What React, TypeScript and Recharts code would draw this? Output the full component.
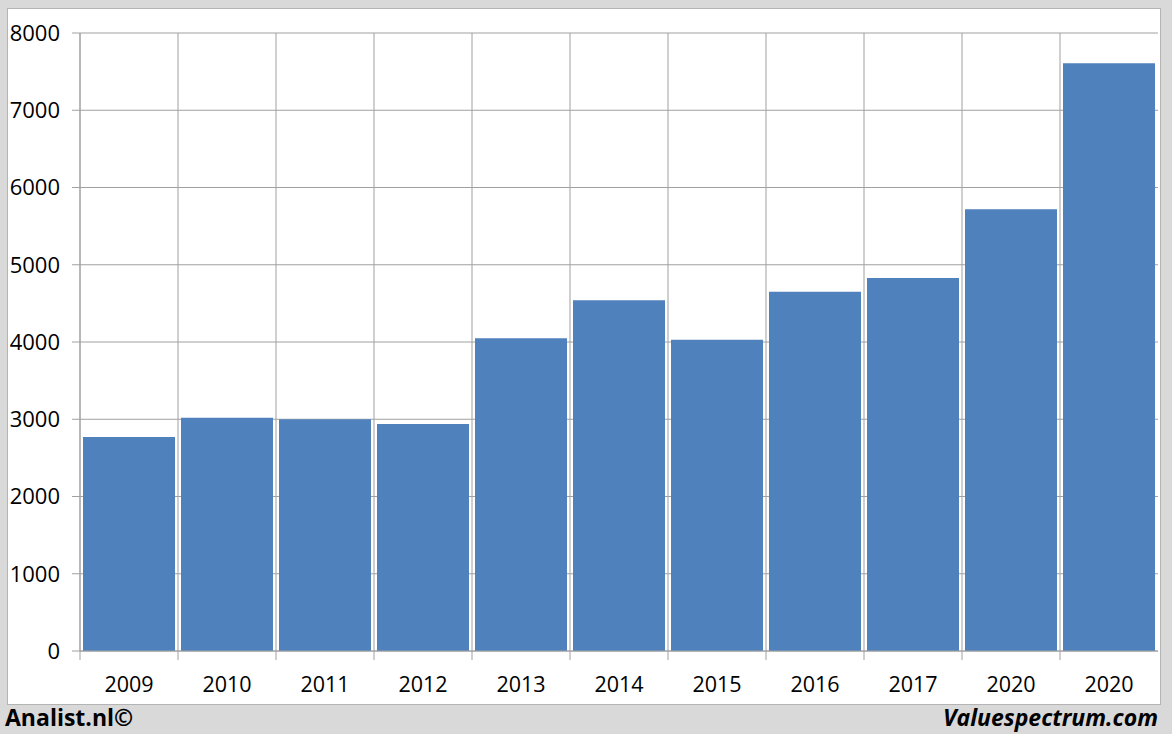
import { BarChart, Bar, XAxis, YAxis, CartesianGrid } from 'recharts';

const years = ['2009', '2010', '2011', '2012', '2013', '2014', '2015', '2016', '2017', '2020', '2020'];
const values = [2770, 3020, 3000, 2940, 4050, 4540, 4030, 4650, 4830, 5720, 7610];
const yTicks = [0, 1000, 2000, 3000, 4000, 5000, 6000, 7000, 8000];

const chartData = years.map((year, i) => ({ id: `c${i}`, year, value: values[i] }));

const FONT = "'Open Sans', 'Liberation Sans', sans-serif";
const GRID = '#a0a0a0';

const YearTick = (props: any) => {
  const { x, y, payload, width, visibleTicksCount } = props;
  const half = payload.offset ?? width / visibleTicksCount / 2;
  const label = years[payload.index ?? 0] ?? '';
  return (
    <g>
      <line x1={x - half} x2={x - half} y1={y} y2={y + 9} stroke={GRID} strokeWidth={1} />
      <text x={x} y={y + 41} textAnchor="middle" fontSize={21.5} fontFamily={FONT} fill="#000">
        {label}
      </text>
    </g>
  );
};

export default function App() {
  return (
    <div style={{ position: 'absolute', left: 0, top: 0, width: 1172, height: 734, background: '#d9d9d9' }}>
      <div
        style={{
          position: 'absolute', left: 7, top: 8, width: 1152, height: 695,
          background: '#fff', border: '1px solid #b4b4b4',
        }}
      />
      <div style={{ position: 'absolute', left: 0, top: 0 }}>
        <BarChart
          width={1172}
          height={734}
          data={chartData}
          margin={{ top: 33, right: 14, bottom: 33, left: 0 }}
          barCategoryGap={3}
        >
          <CartesianGrid
            stroke={GRID}
            verticalCoordinatesGenerator={({ offset }: any) =>
              chartData.map((_, i) => offset.left + (i * offset.width) / chartData.length)
            }
          />
          <XAxis
            dataKey="id"
            height={50}
            axisLine={{ stroke: GRID }}
            tickLine={false}
            tickSize={0}
            tickMargin={0}
            interval={0}
            tick={<YearTick />}
          />
          <YAxis
            width={80}
            domain={[0, 8000]}
            ticks={yTicks}
            interval={0}
            axisLine={{ stroke: GRID }}
            tickLine={{ stroke: GRID }}
            tickSize={8}
            tickMargin={12}
            tick={{ fontSize: 22, fontFamily: FONT, fill: '#000' }}
          />
          <Bar dataKey="value" fill="#4f81bd" isAnimationActive={false} />
        </BarChart>
      </div>
      <div
        style={{
          position: 'absolute', left: 5, top: 701, fontFamily: FONT, fontWeight: 700,
          fontSize: 23, color: '#000',
        }}
      >
        Analist.nl©
      </div>
      <div
        style={{
          position: 'absolute', right: 14, top: 701, fontFamily: FONT, fontWeight: 700,
          fontStyle: 'italic', fontSize: 23, color: '#000',
        }}
      >
        Valuespectrum.com
      </div>
    </div>
  );
}
